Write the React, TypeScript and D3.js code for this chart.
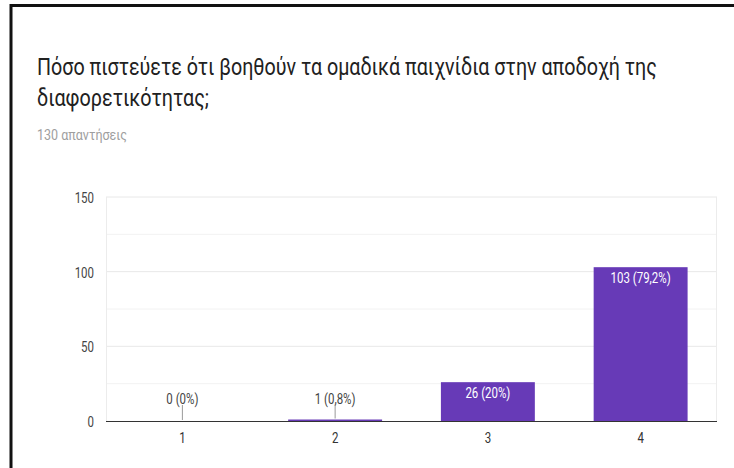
import React, { useLayoutEffect, useRef, useState } from "react";
import * as d3 from "d3";

const categories = ["1", "2", "3", "4"];
const values = [0, 1, 26, 103];
const valueLabels = ["0 (0%)", "1 (0,8%)", "26 (20%)", "103 (79,2%)"];
const yTicks = [0, 50, 100, 150];
const yMinorTicks = [25, 75, 125];
const title1 = "Πόσο πιστεύετε ότι βοηθούν τα ομαδικά παιχνίδια στην αποδοχή της";
const title2 = "διαφορετικότητας;";
const subtitle = "130 απαντήσεις";

const W = 734;
const H = 468;
const plot = { left: 106, right: 717, top: 197, bottom: 421 };
const SX = 0.82;

function T(props: {
  x: number;
  y: number;
  size: number;
  fill: string;
  anchor?: "start" | "middle" | "end";
  children: React.ReactNode;
}) {
  return (
    <text
      transform={`translate(${props.x},${props.y}) scale(${SX},1)`}
      fontSize={props.size}
      fill={props.fill}
      textAnchor={props.anchor || "start"}
    >
      {props.children}
    </text>
  );
}

function FitText(props: { x: number; y: number; size: number; fill: string; width: number; text: string }) {
  const ref = useRef<SVGTextElement>(null);
  const [sx, setSx] = useState(0.82);
  useLayoutEffect(() => {
    if (ref.current) {
      const n = ref.current.getComputedTextLength();
      if (n > 0) setSx(props.width / n);
    }
  }, [props.width, props.text]);
  return (
    <text
      ref={ref}
      transform={`translate(${props.x},${props.y}) scale(${sx},1)`}
      fontSize={props.size}
      fill={props.fill}
    >
      {props.text}
    </text>
  );
}

export default function App() {
  const x = d3
    .scaleBand<string>()
    .domain(categories)
    .range([plot.left, plot.right])
    .paddingInner(0.385)
    .paddingOuter(0.1925);
  const y = d3.scaleLinear().domain([0, 150]).range([plot.bottom, plot.top]);
  const font = "Roboto, 'Liberation Sans', Arial, sans-serif";

  return (
    <svg
      width={W}
      height={H}
      style={{ position: "absolute", left: 0, top: 0, background: "#fff" }}
      fontFamily={font}
    >
      <rect x={0} y={0} width={W} height={H} fill="#fff" />
      {/* frame */}
      <line x1={10} x2={W} y1={5.5} y2={5.5} stroke="#111" strokeWidth={3} />
      <line x1={11} x2={11} y1={4} y2={H} stroke="#111" strokeWidth={3} />

      <FitText x={37} y={75} size={24} fill="#212121" width={620} text={title1} />
      <FitText x={37} y={106} size={24} fill="#212121" width={172} text={title2} />
      <FitText x={37} y={140} size={14} fill="#9e9e9e" width={90} text={subtitle} />

      {/* minor grid */}
      {yMinorTicks.map((t) => (
        <line key={"m" + t} x1={plot.left} x2={plot.right} y1={y(t)} y2={y(t)} stroke="#f2f2f2" />
      ))}
      {yTicks.filter((t) => t !== 0).map((t) => (
        <line key={"g" + t} x1={plot.left} x2={plot.right} y1={y(t)} y2={y(t)} stroke="#e8e8e8" />
      ))}
      <line x1={plot.left + 0.5} x2={plot.left + 0.5} y1={plot.top} y2={plot.bottom} stroke="#ececec" />
      <line x1={plot.right - 0.5} x2={plot.right - 0.5} y1={plot.top} y2={plot.bottom} stroke="#ececec" />

      {yTicks.map((t) => (
        <T key={"yl" + t} x={94} y={y(t) + 6} size={14} fill="#444" anchor="end">
          {t}
        </T>
      ))}

      {categories.map((c, i) => {
        const v = values[i];
        const bx = x(c)!;
        const bw = x.bandwidth();
        const top = y(v);
        const cx = bx + bw / 2;
        const inside = plot.bottom - top > 20;
        return (
          <g key={c}>
            <rect x={bx} y={top} width={bw} height={plot.bottom - top} fill="#673ab7" />
            {inside ? (
              <T x={cx} y={top + 15.5} size={14} fill="#fff" anchor="middle">
                {valueLabels[i]}
              </T>
            ) : (
              <g>
                <line x1={cx} x2={cx} y1={top - 1} y2={405} stroke="#999" />
                <T x={cx} y={403.5} size={14} fill="#444" anchor="middle">
                  {valueLabels[i]}
                </T>
              </g>
            )}
            <T x={cx} y={443} size={14} fill="#333" anchor="middle">
              {c}
            </T>
          </g>
        );
      })}

      <line x1={plot.left} x2={plot.right} y1={plot.bottom + 0.5} y2={plot.bottom + 0.5} stroke="#333" strokeWidth={1.2} />
    </svg>
  );
}
